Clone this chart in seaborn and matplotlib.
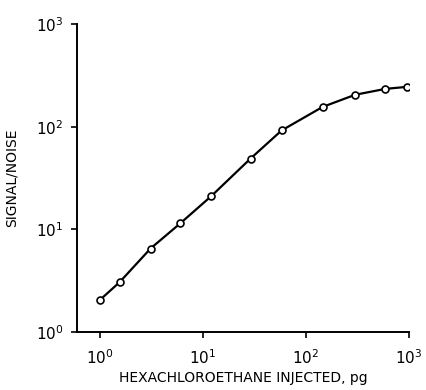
import numpy as np
import pandas as pd
import matplotlib
matplotlib.use('Agg')
import matplotlib.pyplot as plt
import seaborn as sns
from matplotlib.ticker import LogLocator, NullLocator

# values
amount_pg = [1.0, 1.55, 3.1, 6.0, 12.0, 29.0, 58.0, 145.0, 300.0, 590.0, 960.0]
signal_noise = [2.05, 3.05, 6.5, 11.4, 21.0, 49.0, 92.0, 156.0, 205.0, 234.0, 245.0]

df = pd.DataFrame({'amount': amount_pg, 'sn': signal_noise})

sns.set_style('ticks')
plt.rcParams['font.family'] = ['DejaVu Sans']
plt.rcParams['text.color'] = 'black'
plt.rcParams['axes.labelcolor'] = 'black'
plt.rcParams['xtick.color'] = 'black'
plt.rcParams['ytick.color'] = 'black'

fig = plt.figure(figsize=(4.26, 3.90), dpi=100)
ax = fig.add_axes([0.181, 0.149, 0.779, 0.789])

sns.lineplot(
    data=df,
    x='amount',
    y='sn',
    color='black',
    linewidth=1.6,
    marker='o',
    markersize=5,
    markerfacecolor='white',
    markeredgecolor='black',
    markeredgewidth=1.2,
    ax=ax
)

ax.set_xscale('log')
ax.set_yscale('log')
ax.set_xlim(0.6, 1000)
ax.set_ylim(1, 1000)

ax.xaxis.set_major_locator(LogLocator(base=10, numticks=10))
ax.yaxis.set_major_locator(LogLocator(base=10, numticks=10))
ax.xaxis.set_minor_locator(NullLocator())
ax.yaxis.set_minor_locator(NullLocator())

ax.tick_params(axis='both', direction='out', length=4, width=1.2, labelsize=11,
               color='black', labelcolor='black')
ax.tick_params(axis='x', pad=8)
ax.tick_params(axis='y', pad=6)

sns.despine(ax=ax)
for side in ['left', 'bottom']:
    ax.spines[side].set_linewidth(1.4)
    ax.spines[side].set_color('black')

ax.set_xlabel('HEXACHLOROETHANE INJECTED, pg', fontsize=10, labelpad=3, color='black')
ax.set_ylabel('SIGNAL/NOISE', fontsize=10, labelpad=12, color='black')

fig.savefig('out.png', dpi=100)
